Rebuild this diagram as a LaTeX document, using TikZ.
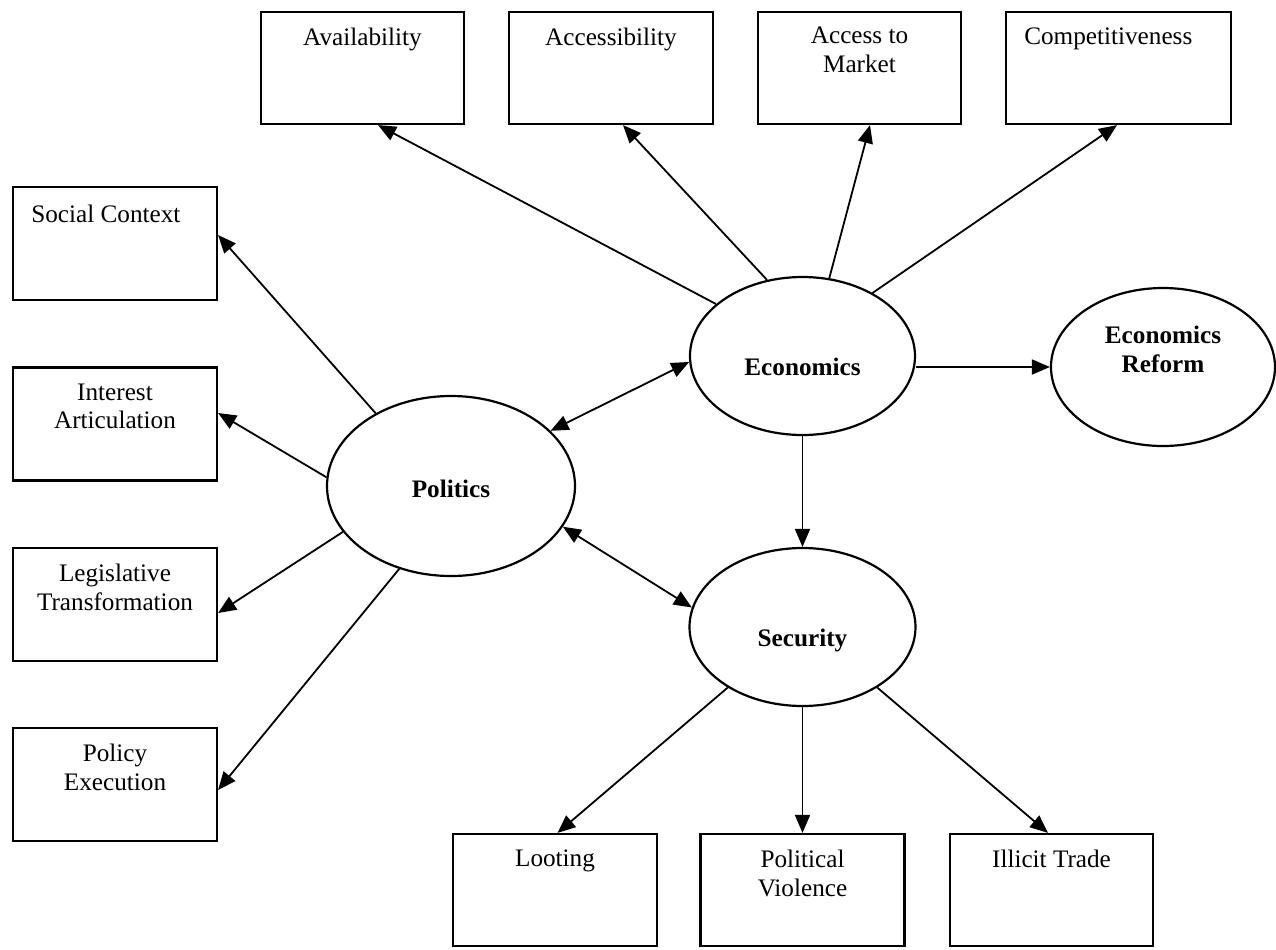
\documentclass[tikz,border=0pt]{standalone}
\usepackage{fontspec}
\setmainfont{Liberation Serif}
\usetikzlibrary{arrows.meta,shapes.geometric}
\begin{document}
\begin{tikzpicture}[x=0.5pt,y=-0.5pt,
  font=\fontsize{12.6pt}{14.3pt}\selectfont,
  box/.style={draw,line width=1.1pt,rectangle,inner sep=0pt,minimum width=102pt,minimum height=56.5pt},
  oval/.style={draw,line width=1.1pt,ellipse,inner sep=0pt},
  boxtext/.style={anchor=north,inner sep=0pt,align=center},
  boxtextl/.style={anchor=north west,inner sep=0pt,align=left},
  ovaltext/.style={anchor=base,inner sep=0pt,align=center,font=\fontsize{12.6pt}{14.3pt}\selectfont\bfseries},
  arr/.style={line width=0.9pt,-{Triangle[length=9pt,width=7.5pt]}},
  darr/.style={line width=0.9pt,{Triangle[length=9pt,width=7.5pt]}-{Triangle[length=9pt,width=7.5pt]}}]
\useasboundingbox (0,0) rectangle (1276,949);

% top boxes
\node[box,minimum width=101.5pt,minimum height=56pt] (avail) at (362.5,68) {};
\node[box,minimum width=102pt,minimum height=56pt] (access) at (611,68) {};
\node[box,minimum width=101.5pt,minimum height=56pt] (market) at (859.5,68) {};
\node[box,minimum width=112.5pt,minimum height=56pt] (compet) at (1118.5,68) {};
\node[boxtext] at ([yshift=-8.5pt]avail.north) {Availability};
\node[boxtext] at ([yshift=-8pt]market.north) {Access to\\Market};
\node[boxtext] at ([yshift=-8.5pt]access.north) {Accessibility};
\node[boxtextl] at ([xshift=9.5pt,yshift=-8.5pt]compet.north west) {Competitiveness};

% left boxes
\node[box] (social) at (115,243.5) {};
\node[box] (interest) at (115,424) {};
\node[box] (legis) at (115,604.5) {};
\node[box] (policy) at (115,784.5) {};
\node[boxtextl] at ([xshift=9.5pt,yshift=-9.5pt]social.north west) {Social Context};
\node[boxtext] at ([yshift=-8.5pt]interest.north) {Interest\\Articulation};
\node[boxtext] at ([yshift=-8.5pt]legis.north) {Legislative\\Transformation};
\node[boxtext] at ([yshift=-8.5pt]policy.north) {Policy\\Execution};

% bottom boxes
\node[box,minimum height=56pt] (loot) at (555,890) {};
\node[box,minimum height=56pt] (polviol) at (802.5,890) {};
\node[box,minimum width=101.5pt,minimum height=56pt] (illicit) at (1051.5,890) {};
\node[boxtext] at ([yshift=-8.5pt]loot.north) {Looting};
\node[boxtext] at ([yshift=-8.5pt]polviol.north) {Political\\Violence};
\node[boxtext] at ([yshift=-8.5pt]illicit.north) {Illicit Trade};

% ellipses
\node[oval,minimum width=124pt,minimum height=90pt] (politics) at (451,486) {};
\node[oval,minimum width=112.5pt,minimum height=79pt] (econ) at (802.5,356) {};
\node[oval,minimum width=112pt,minimum height=79pt] (reform) at (1163,367) {};
\node[oval,minimum width=113pt,minimum height=79pt] (security) at (802.5,627) {};
\node[ovaltext] at ([yshift=-5.5pt]politics.center) {Politics};
\node[ovaltext] at ([yshift=-9.5pt]econ.center) {Economics};
\node[ovaltext] at ([yshift=-9.5pt]security.center) {Security};
\node[ovaltext,anchor=north] at ([yshift=20.5pt]reform.center) {Economics\\Reform};

% economics connectors
\draw[arr] (econ.149.8) -- ([xshift=7.75pt]avail.south);
\draw[arr] (econ.115.3) -- ([xshift=6pt]access.south);
\draw[arr] (econ.71.2) -- ([xshift=5.25pt]market.south);
\draw[arr] (econ.42.2) -- ([xshift=-0.75pt]compet.south);
\draw[arr] (econ.east |- reform.west) -- (reform.west);
\draw[arr] (econ.south) -- (econ.south |- security.north);
\draw[darr] (politics.29) -- (econ.183);
\draw[darr] (politics.-20.1) -- (security.170.2);

% politics connectors
\draw[arr] (politics.136.2) -- ([yshift=4.25pt]social.east);
\draw[arr] (politics.176.7) -- ([yshift=5.5pt]interest.east);
\draw[arr] (politics.203.1) -- ([yshift=-4.25pt]legis.east);
\draw[arr] (politics.238.1) -- ([yshift=-2.75pt]policy.east);

% security connectors
\draw[arr] (security.219.9) -- ([xshift=1.25pt]loot.north);
\draw[arr] (security.south) -- (security.south |- polviol.north);
\draw[arr] (security.-39.1) -- ([xshift=-1.75pt]illicit.north);
\end{tikzpicture}
\end{document}
